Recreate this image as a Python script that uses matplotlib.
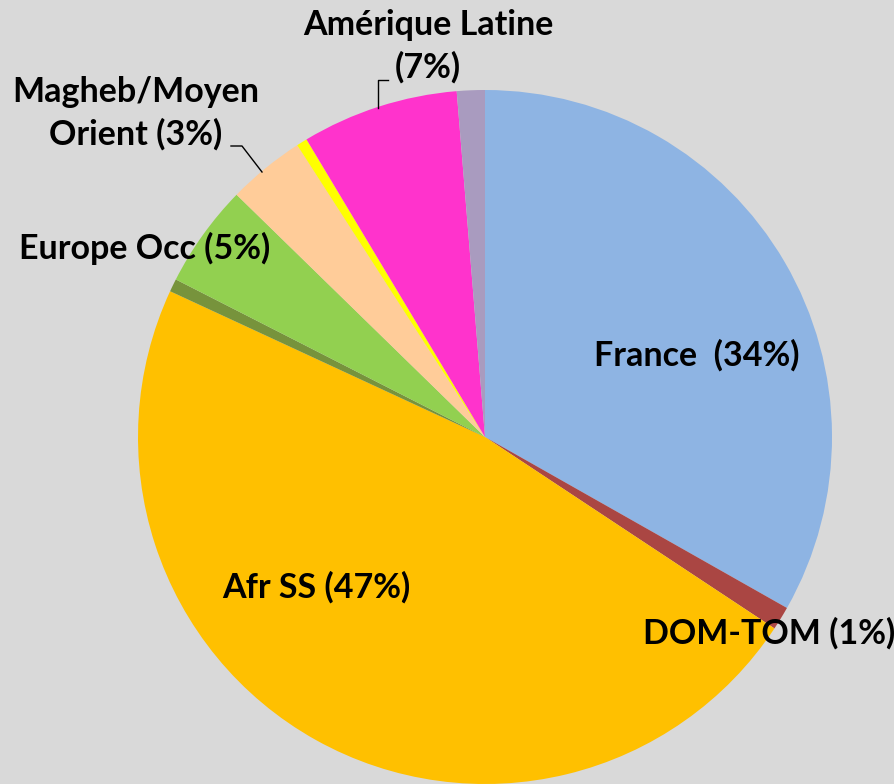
import matplotlib.pyplot as plt

# pie shares, clockwise from 12 o'clock
regions = ["France", "DOM-TOM", "Afr SS", "Autre", "Europe Occ",
           "Magheb/Moyen Orient", "Asie", "Amérique Latine", "Autre2"]
shares = [33.2, 1.1, 47.6, 0.6, 4.8, 3.6, 0.5, 7.3, 1.3]
colors = ["#8EB4E3", "#AA4643", "#FFC000", "#77933C", "#92D050",
          "#FFCC99", "#FFFF00", "#FF33CC", "#A99BBF"]

labels = ["France  (34%)", "DOM-TOM (1%)", "Afr SS (47%)",
          "Europe Occ (5%)", "Magheb/Moyen\nOrient (3%)", "Amérique Latine\n(7%)"]

W, H = 895, 784
fig = plt.figure(figsize=(W / 100, H / 100), dpi=100)
fig.patch.set_facecolor("#D9D9D9")
ax = fig.add_axes([0, 0, 1, 1])
ax.set_facecolor("#D9D9D9")

cx, cy, r = 485, H - 437, 347
ax.pie(shares, colors=colors, startangle=90, counterclock=False,
       center=(cx, cy), radius=r, frame=True,
       wedgeprops=dict(linewidth=0))
ax.set_xlim(0, W)
ax.set_ylim(0, H)
ax.set_aspect("equal")
ax.axis("off")

font = dict(family="Lato", weight="bold", fontsize=24.5, color="black",
            ha="center", va="center", linespacing=1.38)
pos = [(697, 355), (769, 633), (316, 587), (145, 248), (136, 113), (428, 46)]
for txt, (x, y) in zip(labels, pos):
    ax.text(x, H - y, txt, **font)

# leader lines
ax.plot([378, 378, 388], [H - 108, H - 80, H - 80], color="black", lw=1)
ax.plot([231, 242, 262], [H - 146, H - 146, H - 172], color="black", lw=1)

fig.savefig("out.png", dpi=100, facecolor=fig.get_facecolor())
